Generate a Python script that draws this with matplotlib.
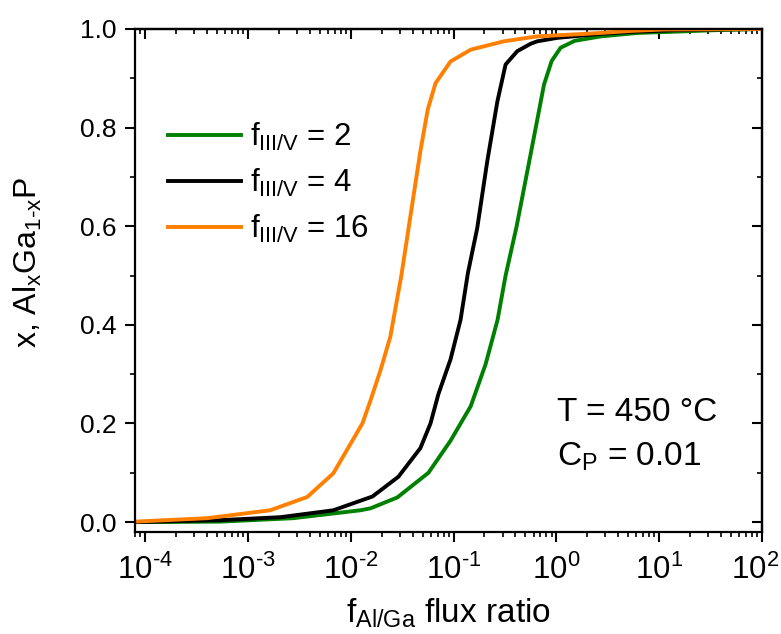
import matplotlib
matplotlib.use("Agg")
import matplotlib.pyplot as plt
import matplotlib.transforms as mtrans
from matplotlib.ticker import LogLocator, MultipleLocator, NullFormatter

plt.rcParams['font.family'] = ['Liberation Sans', 'DejaVu Sans']
plt.rcParams['mathtext.fontset'] = 'custom'
plt.rcParams['mathtext.rm'] = 'Liberation Sans'
plt.rcParams['mathtext.it'] = 'Liberation Sans'
plt.rcParams['axes.unicode_minus'] = False

# values
x_f16 = [8.0e-5, 4.02e-4, 1.65e-3, 3.78e-3, 6.78e-3, 0.0130, 0.0156, 0.0195, 0.0243, 0.0311,
         0.0410, 0.0476, 0.0561, 0.0668, 0.0935, 0.147, 0.309, 0.653, 1.86, 2.72, 5.30, 11.1, 100]
y_f16 = [0.001, 0.008, 0.024, 0.051, 0.099, 0.2, 0.247, 0.308, 0.376, 0.5,
         0.664, 0.752, 0.836, 0.890, 0.934, 0.958, 0.975, 0.985, 0.990, 0.992, 0.996, 0.999, 1.0]

x_f4 = [8.0e-5, 5.37e-4, 2.07e-3, 6.78e-3, 0.0163, 0.0291, 0.0476, 0.0597, 0.0714, 0.0935,
        0.117, 0.138, 0.170, 0.213, 0.267, 0.321, 0.417, 0.562, 0.653, 1.02, 1.86, 2.71,
        5.30, 16.3, 100]
y_f4 = [0.0, 0.004, 0.01, 0.024, 0.052, 0.092, 0.15, 0.2, 0.26, 0.33,
        0.41, 0.505, 0.596, 0.732, 0.853, 0.928, 0.955, 0.970, 0.975, 0.982, 0.987, 0.990,
        0.994, 0.998, 1.0]

x_f2 = [8.0e-5, 5.37e-4, 2.77e-3, 0.0124, 0.0156, 0.0284, 0.0570, 0.0935, 0.125, 0.147,
        0.205, 0.268, 0.321, 0.411, 0.526, 0.658, 0.758, 0.900, 1.10, 1.51, 2.71, 6.20,
        16.3, 39.8, 100]
y_f2 = [0.0, 0.001, 0.008, 0.024, 0.028, 0.05, 0.1, 0.165, 0.21, 0.235,
        0.32, 0.41, 0.50, 0.60, 0.715, 0.82, 0.887, 0.935, 0.962, 0.976, 0.985, 0.992,
        0.995, 0.998, 1.0]

xtick_vals = [1e-4, 1e-3, 1e-2, 1e-1, 1e0, 1e1, 1e2]
xtick_labels = [r'10$^{\text{-}4}$', r'10$^{\text{-}3}$', r'10$^{\text{-}2}$', r'10$^{\text{-}1}$',
                r'10$^{0}$', r'10$^{1}$', r'10$^{2}$']
ytick_vals = [0.0, 0.2, 0.4, 0.6, 0.8, 1.0]
ytick_labels = ['0.0', '0.2', '0.4', '0.6', '0.8', '1.0']

fig = plt.figure(figsize=(7.81, 6.34), dpi=100)
ax = fig.add_axes([0.1729, 0.1609, 0.8028, 0.7934])

lw = 2.8
ax.plot(x_f2, y_f2, color='#008000', lw=lw, label=r'f$_\mathrm{III/V}$ = 2')
ax.plot(x_f4, y_f4, color='black', lw=lw, label=r'f$_\mathrm{III/V}$ = 4')
ax.plot(x_f16, y_f16, color='#ff8000', lw=lw, label=r'f$_\mathrm{III/V}$ = 16')

ax.set_xscale('log')
ax.set_xlim(8e-5, 100)
ax.set_ylim(-0.02, 1.0)
ax.set_xticks(xtick_vals, xtick_labels)
ax.xaxis.set_minor_locator(LogLocator(base=10, subs=range(2, 10), numticks=20))
ax.xaxis.set_minor_formatter(NullFormatter())
ax.set_yticks(ytick_vals, ytick_labels)
ax.yaxis.set_minor_locator(MultipleLocator(0.1))

for s in ax.spines.values():
    s.set_linewidth(1.6)
ax.tick_params(which='major', length=7, width=1.5, direction='out', top=False, right=False)
ax.tick_params(which='minor', length=3.5, width=1.2, direction='out', top=False, right=False)
ax.tick_params(axis='y', labelsize=19, pad=6)
ax.tick_params(axis='x', labelsize=22.5, pad=9)

# last label sits on the figure edge, nudge it in a little
last = ax.get_xticklabels()[-1]
last.set_transform(last.get_transform() + mtrans.ScaledTranslation(-5 / 72, 0, fig.dpi_scale_trans))

# mirrored ticks pointing inward
sec_x = ax.secondary_xaxis('top')
sec_x.set_xticks(xtick_vals)
sec_x.xaxis.set_minor_locator(LogLocator(base=10, subs=range(2, 10), numticks=20))
sec_x.tick_params(which='major', direction='in', length=7, width=1.5, labeltop=False)
sec_x.tick_params(which='minor', direction='in', length=3.5, width=1.2)
sec_x.xaxis.set_major_formatter(NullFormatter())
sec_x.xaxis.set_minor_formatter(NullFormatter())
sec_y = ax.secondary_yaxis('right')
sec_y.set_yticks(ytick_vals)
sec_y.yaxis.set_minor_locator(MultipleLocator(0.1))
sec_y.tick_params(which='major', direction='in', length=7, width=1.5, labelright=False)
sec_y.tick_params(which='minor', direction='in', length=3.5, width=1.2)
sec_y.yaxis.set_major_formatter(NullFormatter())
for s in list(sec_x.spines.values()) + list(sec_y.spines.values()):
    s.set_linewidth(1.6)

ax.set_xlabel(r'f$_\mathrm{Al/Ga}$ flux ratio', fontsize=24)
ax.xaxis.set_label_coords(0.5, -0.128)
ax.xaxis.label.set_va('top')
ax.set_ylabel(r'x, Al$_\mathrm{x}$Ga$_\mathrm{1\text{-}x}$P', fontsize=23)
ax.yaxis.set_label_coords(-0.145, 0.535)

ax.legend(loc='center left', bbox_to_anchor=(0.053, 0.694), frameon=False, fontsize=22.5,
          handlelength=2.34, handletextpad=0.29, labelspacing=0.45, borderpad=0, borderaxespad=0)

ax.text(0.673, 0.221, 'T = 450 °C', transform=ax.transAxes, fontsize=24, va='baseline')
ax.text(0.673, 0.131, r'C$_\mathrm{P}$ = 0.01', transform=ax.transAxes, fontsize=24, va='baseline')

fig.savefig('out.png', dpi=100)
